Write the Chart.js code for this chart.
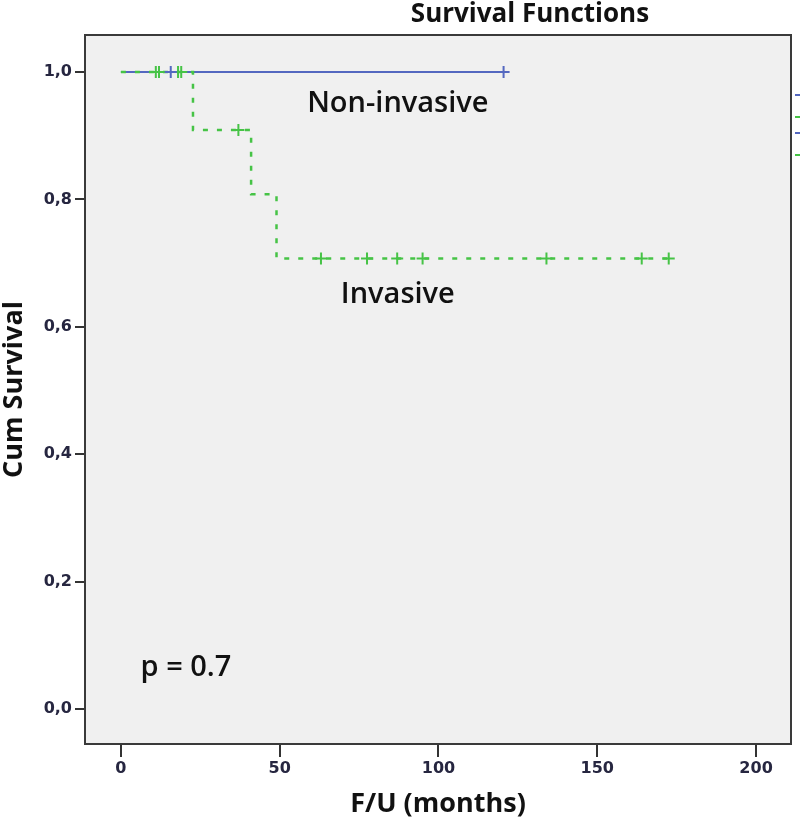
<!DOCTYPE html>
<html><head><meta charset="utf-8">
<script src="https://cdn.jsdelivr.net/npm/chart.js@4/dist/chart.umd.min.js"></script>
<style>html,body{margin:0;padding:0;background:#fff;overflow:hidden}#wrap{width:800px;height:823px;position:relative}</style>
</head><body><div id="wrap"><canvas id="c" width="800" height="823"></canvas></div>
<script>
// ---- data ----
const invasiveTimes = [0, 22.7, 41, 49, 172.5];
const invasiveSurvival = [1.0, 0.909, 0.808, 0.707, 0.707];
const invasiveCensorTimes = [11, 12, 18, 19, 37, 63, 77.5, 87, 95, 134, 164, 172.5];
const invasiveCensorSurvival = [1.0, 1.0, 1.0, 1.0, 0.909, 0.707, 0.707, 0.707, 0.707, 0.707, 0.707, 0.707];
const nonInvasiveTimes = [0, 120.5];
const nonInvasiveSurvival = [1.0, 1.0];
const nonInvasiveCensorTimes = [15.7, 120.5];
const nonInvasiveCensorSurvival = [1.0, 1.0];
const xTicks = [0, 50, 100, 150, 200];
const yTicks = [0, 0.2, 0.4, 0.6, 0.8, 1.0];
const groupLabels = ['Non-invasive', 'Invasive'];
const pValueText = 'p = 0.7';

// ---- styling ----
const BLUE = '#5468c0';
const GREEN = '#46c346';
const pts = (xs, ys) => xs.map((x, i) => ({x: x, y: ys[i]}));

const annotations = [
  {text: groupLabels[0], x: 87.2, y: 0.950, font: '600 29px "Open Sans"'},
  {text: groupLabels[1], x: 87.2, y: 0.650, font: '600 29px "Open Sans"'},
  {text: pValueText, x: 20.5, y: 0.064, font: '600 29px "Open Sans"'}
];

const framePlugin = {
  id: 'frame',
  beforeDraw(chart) {
    const {ctx, chartArea: a} = chart;
    ctx.save();
    ctx.fillStyle = '#f0f0f0';
    ctx.fillRect(a.left, a.top, a.right - a.left, a.bottom - a.top);
    ctx.restore();
  },
  afterDraw(chart) {
    const {ctx, chartArea: a} = chart;
    ctx.save();
    ctx.strokeStyle = '#3a3a3a';
    ctx.lineWidth = 2;
    ctx.beginPath();
    ctx.moveTo(a.left, a.top);
    ctx.lineTo(a.right, a.top);
    ctx.lineTo(a.right, a.bottom);
    ctx.stroke();
    // title (centred over the full figure, whose legend is cropped)
    ctx.fillStyle = '#111';
    ctx.font = 'bold 26px "Open Sans"';
    ctx.textAlign = 'center';
    ctx.textBaseline = 'middle';
    ctx.fillText('Survival Functions', 530, 15);
    // cropped legend line samples at the right edge
    const legendCols = [BLUE, GREEN, BLUE, GREEN];
    const legendOff = [60, 82, 98, 120];
    ctx.lineWidth = 2;
    legendCols.forEach((c, i) => {
      ctx.strokeStyle = c;
      ctx.beginPath();
      ctx.moveTo(a.right + 4, a.top + legendOff[i]);
      ctx.lineTo(a.right + 12, a.top + legendOff[i]);
      ctx.stroke();
    });
    ctx.restore();
  },
  afterDatasetsDraw(chart) {
    const {ctx, scales} = chart;
    ctx.save();
    ctx.fillStyle = '#111';
    ctx.textAlign = 'center';
    ctx.textBaseline = 'middle';
    annotations.forEach(an => {
      ctx.font = an.font;
      ctx.fillText(an.text, scales.x.getPixelForValue(an.x), scales.y.getPixelForValue(an.y));
    });
    ctx.restore();
  }
};

new Chart(document.getElementById('c'), {
  type: 'scatter',
  data: {
    datasets: [
      {label: 'Non-invasive', data: pts(nonInvasiveTimes, nonInvasiveSurvival), showLine: true, stepped: true,
        borderColor: BLUE, borderWidth: 2, pointRadius: 0, order: 4},
      {label: 'Invasive', data: pts(invasiveTimes, invasiveSurvival), showLine: true, stepped: true,
        borderColor: GREEN, borderWidth: 2.5, borderDash: [5, 9], pointRadius: 0, order: 3},
      {label: 'Invasive-censored', data: pts(invasiveCensorTimes, invasiveCensorSurvival), showLine: false,
        pointStyle: 'cross', pointRadius: 6, borderColor: GREEN, backgroundColor: GREEN, pointBorderWidth: 2, order: 2},
      {label: 'Non-invasive-censored', data: pts(nonInvasiveCensorTimes, nonInvasiveCensorSurvival), showLine: false,
        pointStyle: 'cross', pointRadius: 6, borderColor: BLUE, backgroundColor: BLUE, pointBorderWidth: 2, order: 1}
    ]
  },
  options: {
    responsive: false,
    animation: false,
    devicePixelRatio: 1,
    layout: {padding: {top: 35, right: 9, left: 0, bottom: 0}},
    plugins: {legend: {display: false}, tooltip: {enabled: false}, title: {display: false}},
    scales: {
      x: {
        type: 'linear', min: -11.3, max: 211,
        afterBuildTicks: s => { s.ticks = xTicks.map(v => ({value: v})); },
        afterFit: s => { s.height = 79; },
        grid: {drawOnChartArea: false, drawTicks: true, tickLength: 13, color: '#333', lineWidth: 2},
        border: {display: true, color: '#3a3a3a', width: 2},
        ticks: {color: '#262640', font: {family: 'DejaVu Sans', size: 16, weight: 'bold'}, padding: 2, maxRotation: 0},
        title: {display: true, text: 'F/U (months)', color: '#111', font: {family: 'Open Sans', size: 27, weight: 'bold', lineHeight: 1.0}, padding: {top: 0, bottom: 5}}
      },
      y: {
        type: 'linear', min: -0.055, max: 1.058,
        afterBuildTicks: s => { s.ticks = yTicks.map(v => ({value: v})); },
        afterFit: s => { s.width = 85; },
        grid: {drawOnChartArea: false, drawTicks: true, tickLength: 10, color: '#333', lineWidth: 2},
        border: {display: true, color: '#3a3a3a', width: 2},
        ticks: {color: '#262640', font: {family: 'DejaVu Sans', size: 16, weight: 'bold'}, padding: 3,
          callback: v => v.toFixed(1).replace('.', ',')},
        title: {display: true, text: 'Cum Survival', color: '#111', font: {family: 'Open Sans', size: 27, weight: 'bold', lineHeight: 1.0}, padding: {top: 1, bottom: 0}}
      }
    }
  },
  plugins: [framePlugin]
});
</script></body></html>
